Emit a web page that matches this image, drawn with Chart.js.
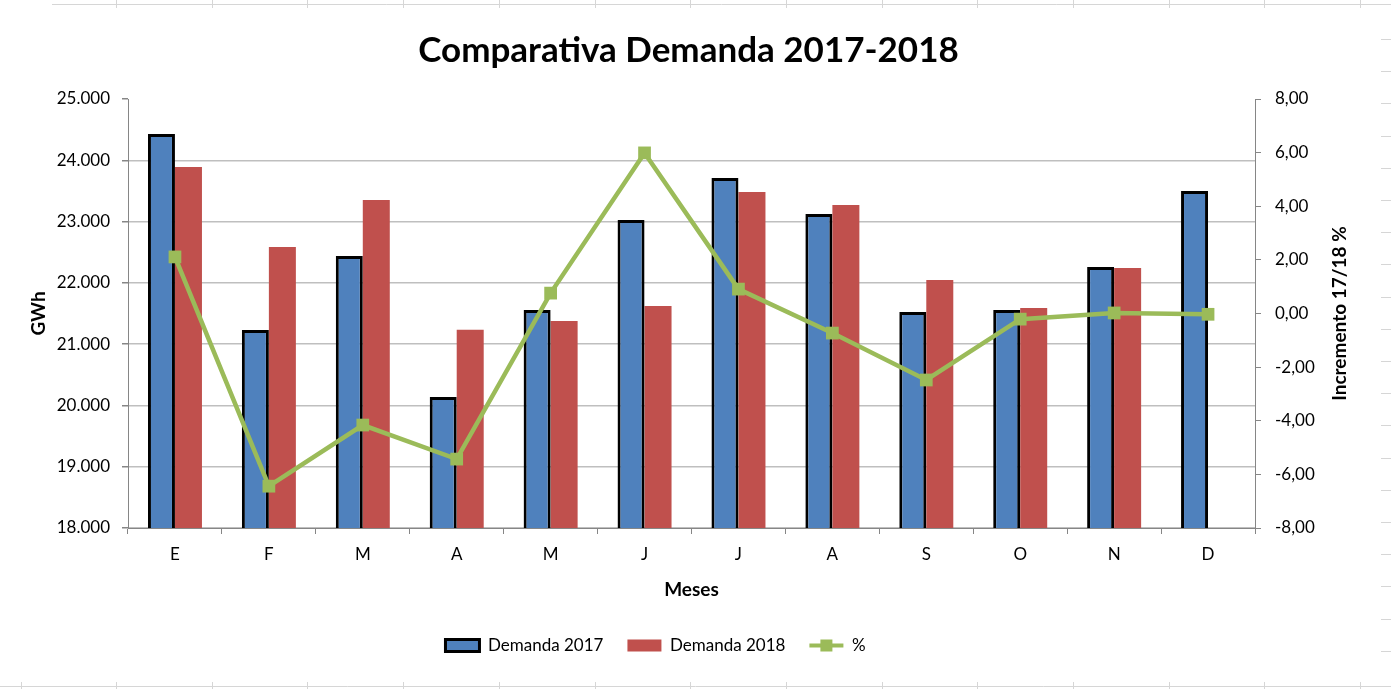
<!DOCTYPE html>
<html>
<head>
<meta charset="utf-8">
<title>Comparativa Demanda 2017-2018</title>
<script src="https://cdn.jsdelivr.net/npm/chart.js@4/dist/chart.umd.min.js"></script>
<style>
  html, body { margin: 0; padding: 0; background: #fff; }
  #wrap { position: relative; width: 1391px; height: 689px; }
</style>
</head>
<body>
<div id="wrap"><canvas id="chart"></canvas></div>
<script>
// ===== Data =====
const meses = ['E', 'F', 'M', 'A', 'M', 'J', 'J', 'A', 'S', 'O', 'N', 'D'];
const demanda2017 = [24428, 21230, 22438, 20137, 21557, 23025, 23710, 23123, 21524, 21557, 22258, 23498];
const demanda2018 = [23890, 22585, 23352, 21235, 21377, 21622, 23482, 23270, 22046, 21590, 22242, null];
const incremento = [2.11, -6.44, -4.16, -5.43, 0.76, 5.99, 0.91, -0.73, -2.48, -0.21, 0.02, -0.03];

const gwhTicks = ['18.000', '19.000', '20.000', '21.000', '22.000', '23.000', '24.000', '25.000'];
const pctTicks = ['-8,00', '-6,00', '-4,00', '-2,00', '0,00', '2,00', '4,00', '6,00', '8,00'];

// ===== Look =====
const FONT = 'Lato, "Open Sans", sans-serif';
const AXIS = '#868686';
const GRID = '#BFBFBF';
const GREEN = '#9BBB59';

// faint spreadsheet cell lines around the chart object
const sheetLines = {
    id: 'sheetLines',
    beforeDraw(chart) {
        const { ctx, width, height } = chart;
        ctx.save();
        ctx.strokeStyle = '#D6D6D6';
        ctx.lineWidth = 1;
        ctx.beginPath();
        ctx.moveTo(52, 4.5); ctx.lineTo(width, 4.5);
        ctx.moveTo(0, 686.5); ctx.lineTo(width, 686.5);
        for (let x = 116; x < width; x += 95.7) {
            ctx.moveTo(Math.round(x) + 0.5, 0); ctx.lineTo(Math.round(x) + 0.5, 8);
            ctx.moveTo(Math.round(x) + 0.5, 682); ctx.lineTo(Math.round(x) + 0.5, height);
        }
        ctx.moveTo(21.5, 682); ctx.lineTo(21.5, height);
        for (let y = 39; y < 680; y += 32.2) {
            ctx.moveTo(1381, Math.round(y) + 0.5); ctx.lineTo(width, Math.round(y) + 0.5);
        }
        ctx.stroke();
        ctx.restore();
    }
};

// Excel doesn't centre title and legend exactly on the canvas, nudge them left
const nudge = {
    id: 'nudge',
    afterLayout(chart) {
        chart.titleBlock.left -= 7;
        chart.titleBlock.right -= 7;
        chart.legend.left -= 40;
        chart.legend.right -= 40;
    }
};

// right axis title reads bottom-to-top like in Excel, and the legend line+marker
const extras = {
    id: 'extras',
    afterDraw(chart) {
        const { ctx, chartArea } = chart;
        ctx.save();
        ctx.fillStyle = '#000';
        ctx.font = 'bold 19px ' + FONT;
        ctx.textAlign = 'center';
        ctx.textBaseline = 'middle';
        ctx.translate(1340, (chartArea.top + chartArea.bottom) / 2);
        ctx.rotate(-Math.PI / 2);
        ctx.fillText('Incremento 17/18 %', 0, 0);
        ctx.restore();

        const legend = chart.legend;
        const i = legend.legendItems.findIndex(it => it.datasetIndex === 2);
        const hb = legend.legendHitBoxes[i];
        if (!hb) return;
        const bw = legend.options.labels.boxWidth;
        const cy = hb.top + hb.height / 2;
        ctx.save();
        ctx.strokeStyle = GREEN;
        ctx.lineWidth = 4;
        ctx.beginPath();
        ctx.moveTo(hb.left, cy);
        ctx.lineTo(hb.left + bw, cy);
        ctx.stroke();
        ctx.fillStyle = GREEN;
        ctx.fillRect(hb.left + bw / 2 - 6, cy - 6, 12, 12);
        ctx.restore();
    }
};

const ctx = document.getElementById('chart').getContext('2d');
new Chart(ctx, {
    type: 'bar',
    data: {
        labels: meses,
        datasets: [
            {
                label: 'Demanda 2017',
                data: demanda2017,
                backgroundColor: '#4F81BD',
                borderColor: '#000',
                borderWidth: 3,
                borderSkipped: false,
                yAxisID: 'y',
                order: 1
            },
            {
                label: 'Demanda 2018',
                data: demanda2018,
                backgroundColor: '#C0504D',
                borderWidth: 0,
                yAxisID: 'y',
                order: 1
            },
            {
                type: 'line',
                label: '%',
                data: incremento,
                borderColor: GREEN,
                backgroundColor: GREEN,
                borderWidth: 4.5,
                pointStyle: 'rect',
                pointRadius: 9,
                pointBorderWidth: 0,
                pointBackgroundColor: GREEN,
                tension: 0,
                yAxisID: 'y1',
                order: 0
            }
        ]
    },
    options: {
        responsive: true,
        maintainAspectRatio: false,
        animation: false,
        datasets: {
            bar: { categoryPercentage: 0.575, barPercentage: 1.0 }
        },
        layout: { padding: { top: 0, right: 0, bottom: 25, left: 0 } },
        plugins: {
            tooltip: { enabled: false },
            title: {
                display: true,
                text: 'Comparativa Demanda 2017-2018',
                color: '#000',
                font: { family: FONT, size: 35, weight: 'bold', lineHeight: 1.2 },
                padding: { top: 30, bottom: 27 }
            },
            legend: {
                position: 'bottom',
                labels: {
                    color: '#000',
                    font: { family: FONT, size: 17 },
                    boxWidth: 34,
                    boxHeight: 12,
                    padding: 24,
                    sort: (a, b) => a.datasetIndex - b.datasetIndex,
                    generateLabels(chart) {
                        const items = Chart.defaults.plugins.legend.labels.generateLabels(chart);
                        items.forEach(it => {
                            if (it.datasetIndex === 2) {
                                it.fillStyle = 'rgba(0,0,0,0)';
                                it.strokeStyle = 'rgba(0,0,0,0)';
                                it.lineWidth = 0;
                            }
                        });
                        return items;
                    }
                }
            }
        },
        scales: {
            x: {
                grid: {
                    offset: true,
                    drawOnChartArea: false,
                    drawTicks: true,
                    tickLength: 6,
                    tickColor: AXIS
                },
                border: { display: true, color: AXIS, width: 1 },
                ticks: { color: '#000', font: { family: FONT, size: 17 }, padding: 10 },
                title: {
                    display: true,
                    text: 'Meses',
                    color: '#000',
                    font: { family: FONT, size: 19, weight: 'bold', lineHeight: 1.2 },
                    padding: { top: 0, bottom: 12 }
                },
                afterFit(s) {
                    s.height = s.chart.height - 25 - s.chart.legend.height - 528;
                }
            },
            y: {
                position: 'left',
                min: 18000,
                max: 25000,
                ticks: {
                    stepSize: 1000,
                    color: '#000',
                    font: { family: FONT, size: 17 },
                    padding: 12,
                    callback: (v, i) => gwhTicks[i]
                },
                grid: {
                    color: c => (c.tick && c.tick.value === 25000 ? 'rgba(0,0,0,0)' : GRID),
                    tickColor: AXIS,
                    tickLength: 6,
                    lineWidth: 1.5
                },
                border: { display: true, color: AXIS, width: 1 },
                title: {
                    display: true,
                    text: 'GWh',
                    color: '#000',
                    font: { family: FONT, size: 19, weight: 'bold', lineHeight: 1.2 },
                    padding: { top: 27, bottom: 0 }
                },
                afterFit(s) { s.width = 128; }
            },
            y1: {
                position: 'right',
                min: -8,
                max: 8,
                ticks: {
                    stepSize: 2,
                    color: '#000',
                    font: { family: FONT, size: 17 },
                    padding: 14,
                    callback: (v, i) => pctTicks[i]
                },
                grid: {
                    drawOnChartArea: false,
                    tickColor: AXIS,
                    tickLength: 6
                },
                border: { display: true, color: AXIS, width: 1 },
                afterFit(s) { s.width = 136; }
            }
        }
    },
    plugins: [sheetLines, nudge, extras]
});
</script>
</body>
</html>
